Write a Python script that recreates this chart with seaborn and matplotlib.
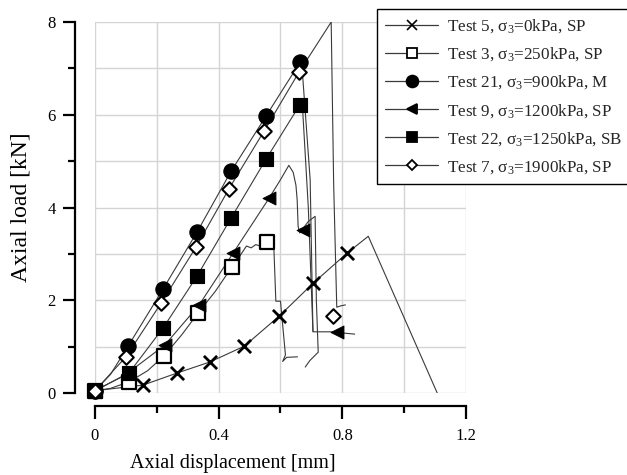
import numpy as np
import matplotlib
matplotlib.use("Agg")
import matplotlib.pyplot as plt
from matplotlib.lines import Line2D
import seaborn as sns

# --- data (axial displacement [mm], axial load [kN]) ---
t5_x = [0, 0.155, 0.265, 0.372, 0.483, 0.596, 0.706, 0.816, 0.884, 1.107]
t5_y = [0.05, 0.17, 0.43, 0.67, 1.01, 1.66, 2.37, 3.02, 3.38, 0.0]
t5_mx = [0, 0.155, 0.265, 0.372, 0.483, 0.596, 0.706, 0.816]
t5_my = [0.05, 0.17, 0.43, 0.67, 1.01, 1.66, 2.37, 3.02]

t3_x = [0, 0.05, 0.11, 0.17, 0.223, 0.28, 0.333, 0.39, 0.443, 0.47, 0.49, 0.505,
        0.52, 0.535, 0.556, 0.578, 0.585, 0.60, 0.616, 0.607, 0.62, 0.655]
t3_y = [0.05, 0.10, 0.24, 0.48, 0.80, 1.25, 1.72, 2.20, 2.72, 2.97, 3.17, 3.13,
        3.20, 3.17, 3.25, 3.23, 1.98, 1.98, 0.82, 0.68, 0.77, 0.78]
t3_mx = [0, 0.11, 0.223, 0.333, 0.443, 0.556]
t3_my = [0.05, 0.24, 0.80, 1.72, 2.72, 3.25]

t21_x = [0, 0.05, 0.107, 0.22, 0.33, 0.44, 0.553, 0.663, 0.668, 0.696, 0.705, 0.76, 0.84]
t21_y = [0.05, 0.40, 1.01, 2.24, 3.47, 4.78, 5.97, 7.13, 7.18, 4.60, 1.32, 1.32, 1.27]
t21_mx = [0, 0.107, 0.22, 0.33, 0.44, 0.553, 0.663]
t21_my = [0.05, 1.01, 2.24, 3.47, 4.78, 5.97, 7.13]

t9_x = [0, 0.10, 0.225, 0.337, 0.447, 0.563, 0.60, 0.627, 0.641, 0.65, 0.654,
        0.657, 0.662, 0.69, 0.712, 0.716, 0.722, 0.695, 0.68]
t9_y = [0.05, 0.40, 1.03, 1.90, 3.02, 4.20, 4.60, 4.91, 4.76, 4.48, 4.16,
        3.60, 3.45, 3.70, 3.81, 2.00, 0.88, 0.70, 0.56]
t9_mx = [0, 0.225, 0.337, 0.447, 0.563, 0.673, 0.783]
t9_my = [0.05, 1.03, 1.90, 3.02, 4.20, 3.51, 1.31]

t22_x = [0, 0.11, 0.22, 0.33, 0.44, 0.553, 0.663, 0.67, 0.69, 0.705]
t22_y = [0.05, 0.43, 1.40, 2.52, 3.77, 5.04, 6.22, 6.30, 4.00, 1.33]
t22_mx = [0, 0.11, 0.22, 0.33, 0.44, 0.553, 0.663]
t22_my = [0.05, 0.43, 1.40, 2.52, 3.77, 5.04, 6.22]

t7_x = [0, 0.10, 0.214, 0.327, 0.434, 0.547, 0.66, 0.764, 0.772, 0.782, 0.795, 0.81]
t7_y = [0.05, 0.78, 1.94, 3.15, 4.41, 5.65, 6.92, 8.00, 4.50, 1.85, 1.88, 1.90]
t7_mx = [0, 0.10, 0.214, 0.327, 0.434, 0.547, 0.66, 0.77]
t7_my = [0.05, 0.78, 1.94, 3.15, 4.41, 5.65, 6.92, 1.66]

labels = [
    r"Test 5, $\mathregular{\sigma_3}$=0kPa, SP",
    r"Test 3, $\mathregular{\sigma_3}$=250kPa, SP",
    r"Test 21, $\mathregular{\sigma_3}$=900kPa, M",
    r"Test 9, $\mathregular{\sigma_3}$=1200kPa, SP",
    r"Test 22, $\mathregular{\sigma_3}$=1250kPa, SB",
    r"Test 7, $\mathregular{\sigma_3}$=1900kPa, SP",
]

sns.set_theme(style="white")
plt.rcParams["font.family"] = ["Liberation Serif", "DejaVu Serif"]
plt.rcParams["mathtext.fontset"] = "custom"
plt.rcParams["mathtext.rm"] = "Liberation Serif"

fig = plt.figure(figsize=(6.27, 4.75), dpi=100)
ax = fig.add_axes([0.1515, 0.1726, 0.5917, 0.781])

line_col = "#3a3a3a"
series = [
    (t5_x, t5_y, t5_mx, t5_my, dict(marker="x", s=90, color="black", linewidth=2)),
    (t3_x, t3_y, t3_mx, t3_my, dict(marker="s", s=95, facecolor="white", edgecolor="black", linewidth=1.6)),
    (t21_x, t21_y, t21_mx, t21_my, dict(marker="o", s=120, color="black", edgecolor="black")),
    (t9_x, t9_y, t9_mx, t9_my, dict(marker="<", s=85, color="black", edgecolor="black")),
    (t22_x, t22_y, t22_mx, t22_my, dict(marker="s", s=105, color="black", edgecolor="black")),
    (t7_x, t7_y, t7_mx, t7_my, dict(marker="D", s=55, facecolor="white", edgecolor="black", linewidth=1.5)),
]

for cx, cy, mx, my, mstyle in series:
    sns.lineplot(x=cx, y=cy, sort=False, estimator=None, color=line_col,
                 linewidth=0.8, ax=ax, zorder=2)
for cx, cy, mx, my, mstyle in series:
    sns.scatterplot(x=mx, y=my, ax=ax, zorder=3, clip_on=False, legend=False, **mstyle)

ax.set_xlim(0, 1.2)
ax.set_ylim(0, 8)
ax.set_xticks([0, 0.4, 0.8, 1.2])
ax.set_xticklabels(["0", "0.4", "0.8", "1.2"])
ax.set_xticks([0.2, 0.6, 1.0], minor=True)
ax.set_yticks([0, 2, 4, 6, 8])
ax.set_yticks([1, 3, 5, 7], minor=True)
ax.grid(True, which="both", color="#d4d4d4", linewidth=1.0)
ax.set_axisbelow(True)

for side in ["top", "right"]:
    ax.spines[side].set_visible(False)
ax.spines["left"].set_position(("outward", 14.4))
ax.spines["bottom"].set_position(("outward", 9.4))
ax.spines["left"].set_bounds(0, 8)
ax.spines["bottom"].set_bounds(0, 1.2)
for side in ["left", "bottom"]:
    ax.spines[side].set_linewidth(1.6)
    ax.spines[side].set_color("black")

ax.tick_params(which="major", direction="out", length=9, width=1.6, colors="black",
               labelsize=12, left=True, bottom=True)
ax.tick_params(axis="y", which="major", pad=5)
ax.tick_params(axis="x", which="major", pad=7)
ax.tick_params(which="minor", direction="out", length=5, width=1.6, colors="black",
               left=True, bottom=True)

ax.set_xlabel("Axial displacement [mm]", fontsize=14.5, color="black")
ax.set_ylabel("Axial load [kN]", fontsize=17, color="black")
ax.xaxis.set_label_coords(0.372, -0.165)
ax.yaxis.set_label_coords(-0.17, 0.5)

handles = []
for cx, cy, mx, my, mstyle in series:
    m = mstyle["marker"]
    fc = mstyle.get("facecolor", "black")
    sz = {"x": 7, "s": 7.5, "o": 8.5, "<": 7, "D": 5.5}[m]
    if m == "s" and fc == "white":
        sz = 7
    handles.append(Line2D([], [], color=line_col, linewidth=0.9, marker=m,
                          markersize=sz, markerfacecolor=fc, markeredgecolor="black",
                          markeredgewidth=1.3 if m != "x" else 1.2))

leg = fig.legend(handles, labels, loc="upper left", bbox_to_anchor=(0.601, 0.981),
                 frameon=True, fancybox=False, edgecolor="black", framealpha=1,
                 fontsize=12.3, handlelength=3.1, labelspacing=0.6, borderpad=0.5,
                 handletextpad=0.5, borderaxespad=0)
leg.get_frame().set_linewidth(1.0)

fig.savefig("out.png", dpi=100)
